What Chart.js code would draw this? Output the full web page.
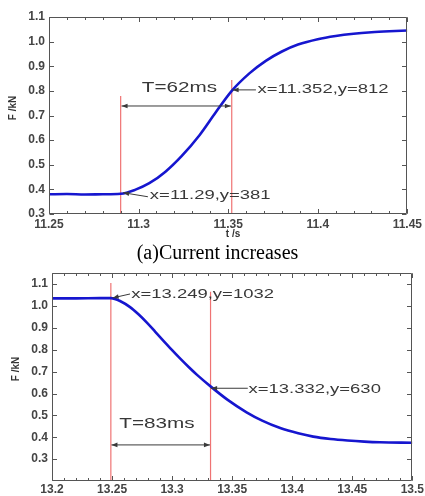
<!DOCTYPE html>
<html><head><meta charset="utf-8">
<script src="https://cdn.jsdelivr.net/npm/chart.js@4.4.0/dist/chart.umd.min.js"></script>
<style>
html,body{margin:0;padding:0;background:#fff;width:425px;height:496px;overflow:hidden;}
#c1{position:absolute;left:0;top:0;}
#c2{position:absolute;left:0;top:262px;}
#cap{position:absolute;left:5px;width:425px;top:241px;text-align:center;font-family:"Liberation Serif","Times New Roman",serif;font-size:20px;color:#000;line-height:22px;}
</style></head><body>
<canvas id="c1" width="425" height="246"></canvas>
<div id="cap">(a)Current increases</div>
<canvas id="c2" width="425" height="234"></canvas>
<script>
// ---------- data ----------
const riseT = [11.25, 11.26, 11.27, 11.28, 11.29, 11.298, 11.306, 11.315, 11.324, 11.334, 11.343, 11.352, 11.362, 11.371, 11.38, 11.389, 11.40, 11.41, 11.42, 11.43, 11.44, 11.45];
const riseF = [0.380, 0.381, 0.379, 0.380, 0.382, 0.398, 0.425, 0.472, 0.535, 0.620, 0.712, 0.800, 0.872, 0.922, 0.960, 0.988, 1.010, 1.023, 1.032, 1.038, 1.042, 1.045];
const fallT = [13.20, 13.22, 13.24, 13.249, 13.257, 13.265, 13.272, 13.279, 13.286, 13.293, 13.300, 13.307, 13.314, 13.321, 13.333, 13.346, 13.362, 13.375, 13.39, 13.405, 13.4175, 13.432, 13.446, 13.46, 13.473, 13.50];
const fallF = [1.035, 1.035, 1.036, 1.036, 1.022, 0.995, 0.962, 0.924, 0.882, 0.840, 0.798, 0.758, 0.720, 0.684, 0.628, 0.572, 0.514, 0.476, 0.442, 0.418, 0.403, 0.392, 0.385, 0.380, 0.377, 0.375];
const riseXTicks = [11.25, 11.3, 11.35, 11.4, 11.45];
const riseYTicks = [0.3, 0.4, 0.5, 0.6, 0.7, 0.8, 0.9, 1.0, 1.1];
const fallXTicks = [13.2, 13.25, 13.3, 13.35, 13.4, 13.45, 13.5];
const fallYTicks = [0.3, 0.4, 0.5, 0.6, 0.7, 0.8, 0.9, 1.0, 1.1];
const riseMarkT = [11.29, 11.352];
const riseMarkTop = [0.779, 0.844];
const fallMarkT = [13.249, 13.332];
const fallMarkTop = [1.105, 1.065];
const riseTexts = ['T=62ms', 'x=11.352,y=812', 'x=11.29,y=381'];
const fallTexts = ['T=83ms', 'x=13.332,y=630', 'x=13.249,y=1032'];

// ---------- drawing helpers ----------
const TICKFONT = {family:'"Liberation Sans", Arial, sans-serif', size:12, weight:'bold'};
function head(ctx, x, y, ang){
  const L=6, W=2.3, c=Math.cos(ang), s=Math.sin(ang);
  ctx.beginPath(); ctx.moveTo(x,y);
  ctx.lineTo(x-L*c+W*s, y-L*s-W*c);
  ctx.lineTo(x-L*c-W*s, y-L*s+W*c);
  ctx.closePath(); ctx.fill();
}
function sText(ctx, t, x, y, size, sx){
  ctx.save(); ctx.translate(x,y); ctx.scale(sx,1);
  ctx.font = size+'px "Liberation Sans", Arial, sans-serif';
  ctx.textBaseline='middle'; ctx.textAlign='left';
  ctx.fillText(t,0,0); ctx.restore();
}
const framePlugin = {
  id:'frame',
  afterDatasetsDraw(chart, args, o){
    const {ctx, chartArea:a, scales:{x,y}} = chart;
    ctx.save();
    ctx.strokeStyle='#555'; ctx.lineWidth=1;
    const L=Math.round(a.left)+0.5, R=Math.round(a.right)-0.5, T=Math.round(a.top)+0.5, B=Math.round(a.bottom)-0.5;
    ctx.beginPath(); ctx.rect(L,T,R-L,B-T); ctx.stroke();
    ctx.beginPath();
    for(let v=x.min; v<=x.max+1e-9; v+=0.01){
      const px=Math.round(x.getPixelForValue(v))+0.5;
      ctx.moveTo(px,B); ctx.lineTo(px,B-2.5);
      ctx.moveTo(px,T); ctx.lineTo(px,T+2.5);
    }
    o.xTicks.forEach(v=>{
      const px=Math.round(x.getPixelForValue(v))+0.5;
      ctx.moveTo(px,B); ctx.lineTo(px,B-4.5);
      ctx.moveTo(px,T); ctx.lineTo(px,T+4.5);
    });
    o.yTicks.forEach(v=>{
      const py=Math.round(y.getPixelForValue(v))+0.5;
      ctx.moveTo(L,py); ctx.lineTo(L+4.5,py);
      ctx.moveTo(R,py); ctx.lineTo(R-4.5,py);
    });
    ctx.stroke();
    ctx.fillStyle='#3a3a3a'; ctx.strokeStyle='#3a3a3a'; ctx.lineWidth=1;
    (o.arrows||[]).forEach(ar=>{
      const x1=x.getPixelForValue(ar[0]), y1=y.getPixelForValue(ar[1]);
      const x2=x.getPixelForValue(ar[2]), y2=y.getPixelForValue(ar[3]);
      ctx.beginPath(); ctx.moveTo(x1,y1); ctx.lineTo(x2,y2); ctx.stroke();
      const ang=Math.atan2(y2-y1,x2-x1);
      head(ctx,x2,y2,ang);
      if(ar[4]) head(ctx,x1,y1,ang+Math.PI);
    });
    ctx.fillStyle='#383838';
    (o.notes||[]).forEach(n=>{
      sText(ctx, n.text, x.getPixelForValue(n.x), y.getPixelForValue(n.y), n.size, n.sx);
    });
    ctx.fillStyle='#333';
    ctx.font='bold 10px "Liberation Sans", Arial, sans-serif';
    ctx.textAlign='center'; ctx.textBaseline='middle';
    ctx.save(); ctx.translate(o.yTitlePos[0], o.yTitlePos[1]); ctx.rotate(-Math.PI/2);
    ctx.fillText('F /kN',0,0); ctx.restore();
    if(o.xTitle){ ctx.fillText(o.xTitle, o.xTitlePos[0], o.xTitlePos[1]); }
    ctx.restore();
  }
};

function fmtX(v){ return String(parseFloat(v.toFixed(3))); }

function makeChart(id, T, F, markT, markTop, xT, yT, xmin, xmax, ymin, ymax, pad, yW, xH, xPad, frameOpts){
  const ds = [{
    data: T.map((t,i)=>({x:t,y:F[i]})),
    borderColor:'#1616cf', borderWidth:2.6, pointRadius:0, showLine:true,
    cubicInterpolationMode:'monotone', fill:false, order:0
  }];
  markT.forEach((t,i)=>{
    ds.push({data:[{x:t,y:ymin},{x:t,y:markTop[i]}], borderColor:'#ef7373', borderWidth:1.2,
      pointRadius:0, showLine:true, fill:false, order:1});
  });
  frameOpts.xTicks = xT; frameOpts.yTicks = yT;
  return new Chart(document.getElementById(id), {
    type:'scatter',
    data:{datasets:ds},
    options:{
      responsive:false, animation:false, devicePixelRatio:1,
      layout:{padding:pad},
      plugins:{legend:{display:false}, tooltip:{enabled:false}, frame:frameOpts},
      scales:{
        x:{type:'linear', min:xmin, max:xmax,
          afterBuildTicks:s=>{s.ticks = xT.map(v=>({value:v}));},
          afterFit:s=>{s.height = xH;},
          grid:{display:false, drawTicks:false}, border:{display:false},
          ticks:{padding:xPad, font:TICKFONT, color:'#444', maxRotation:0, autoSkip:false, callback:v=>fmtX(v)}},
        y:{type:'linear', min:ymin, max:ymax,
          afterBuildTicks:s=>{s.ticks = yT.map(v=>({value:v}));},
          afterFit:s=>{s.width = yW;},
          grid:{display:false, drawTicks:false}, border:{display:false},
          ticks:{padding:4, font:TICKFONT, color:'#444', autoSkip:false, callback:v=>v.toFixed(1)}}
      }
    },
    plugins:[framePlugin]
  });
}

makeChart('c1', riseT, riseF, riseMarkT, riseMarkTop, riseXTicks, riseYTicks,
  11.25, 11.45, 0.3, 1.1, {top:17, right:17, left:0, bottom:0}, 49, 32, 3, {
    notes:[
      {text:riseTexts[0], x:11.3018, y:0.812, size:15, sx:1.38},
      {text:riseTexts[1], x:11.3664, y:0.804, size:13, sx:1.42},
      {text:riseTexts[2], x:11.3063, y:0.377, size:13, sx:1.42}
    ],
    arrows:[
      [11.2905, 0.7386, 11.3515, 0.7386, true],
      [11.3655, 0.804, 11.3525, 0.804, false],
      [11.3052, 0.370, 11.2914, 0.3865, false]
    ],
    yTitlePos:[13,108], xTitle:'t /s', xTitlePos:[233,234]
  });

makeChart('c2', fallT, fallF, fallMarkT, fallMarkTop, fallXTicks, fallYTicks,
  13.2, 13.5, 0.2, 1.15, {top:6, right:10, left:0, bottom:0}, 52, 15, 1, {
    notes:[
      {text:fallTexts[0], x:13.256, y:0.463, size:15, sx:1.38},
      {text:fallTexts[1], x:13.3636, y:0.619, size:13, sx:1.42},
      {text:fallTexts[2], x:13.266, y:1.052, size:13, sx:1.42}
    ],
    arrows:[
      [13.2495, 0.365, 13.3315, 0.365, true],
      [13.363, 0.624, 13.3325, 0.624, false],
      [13.265, 1.055, 13.2505, 1.037, false]
    ],
    yTitlePos:[16,107]
  });
</script>
</body></html>
